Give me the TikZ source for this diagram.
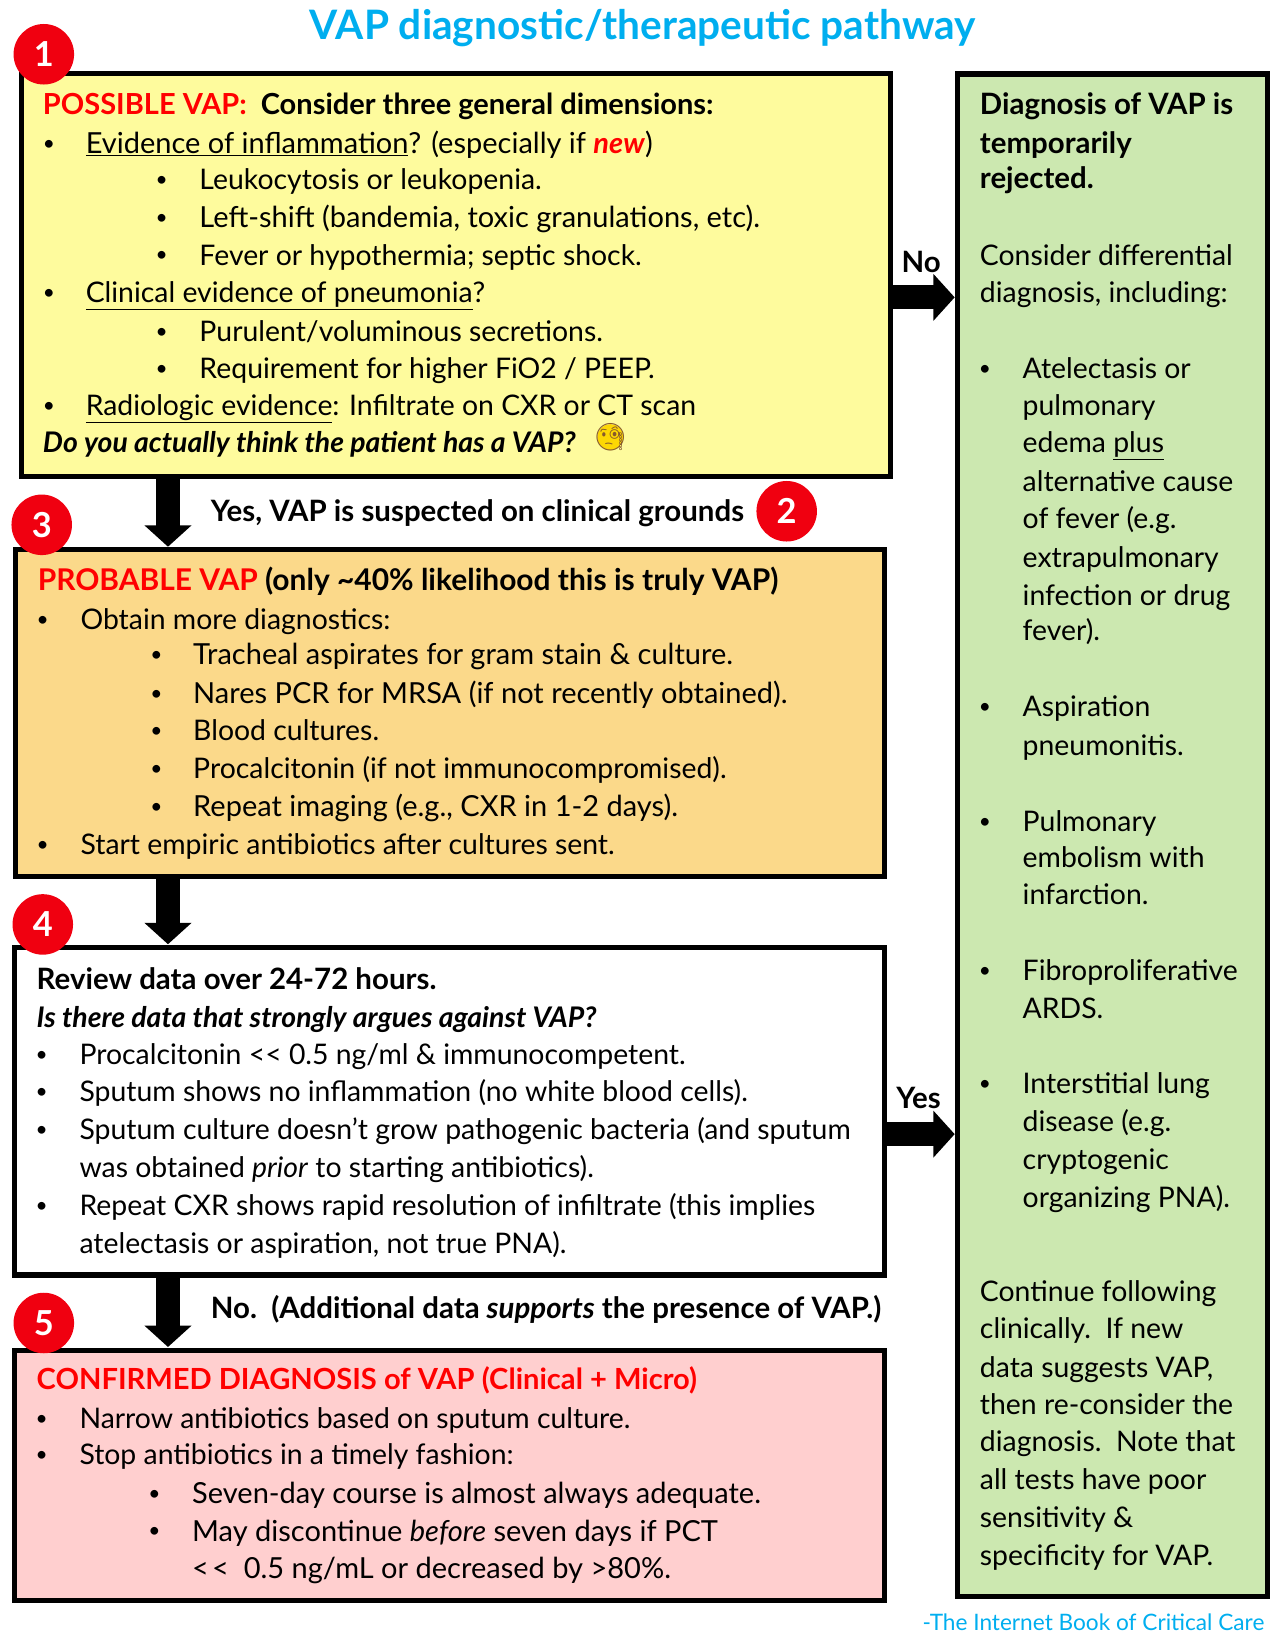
\documentclass[tikz,border=0pt]{standalone}
\usepackage{fontspec}
\setmainfont{Lato}
\newfontfamily\emojifont{Noto Emoji}
\usetikzlibrary{arrows.meta}
\definecolor{titleblue}{HTML}{00AEEF}
\definecolor{possiblefill}{HTML}{FEFB9D}
\definecolor{probablefill}{HTML}{FBD98A}
\definecolor{confirmedfill}{HTML}{FFCFCF}
\definecolor{rejectedfill}{HTML}{CCE8B0}
\definecolor{badgered}{HTML}{F00010}
\tikzset{
  stagebox/.style={draw=black,line width=5pt,anchor=north west,inner sep=0pt,outer sep=0pt},
  flowarrow/.style={line width=23pt,-{Triangle[length=20.5pt,width=44pt]},shorten >=3pt},
  badge/.style={circle,fill=badgered,minimum size=58pt,inner sep=0pt,text=white,font=\fontsize{33}{33}\selectfont\bfseries},
  linetext/.style={anchor=base west,inner sep=0pt,font=\fontsize{27.2}{33}\selectfont},
  widetext/.style={linetext,font=\fontsize{27.8}{33}\selectfont},
  headtext/.style={linetext,font=\fontsize{28.2}{33}\selectfont\bfseries},
  quesstext/.style={linetext,font=\fontsize{27.2}{33}\selectfont\bfseries},
  dot/.style={anchor=base,inner sep=0pt,yshift=3pt,font=\fontsize{20}{24}\selectfont}
}
\begin{document}
\begin{tikzpicture}[x=1pt,y=-1pt,>=stealth]
  \useasboundingbox (0,0) rectangle (1227,1568);
  \node[anchor=base,inner sep=0pt,text=titleblue,font=\fontsize{38.9}{40}\selectfont\bfseries] (title) at (616,38) {VAP diagnostic/therapeutic pathway};

  % stages
  \node[stagebox,fill=possiblefill,minimum width=833pt,minimum height=386pt] (possible) at (20.5,70.5) {};
  \node[stagebox,fill=probablefill,minimum width=833pt,minimum height=313pt] (probable) at (15,527) {};
  \node[stagebox,fill=white,minimum width=834pt,minimum height=314pt] (review) at (14,908) {};
  \node[stagebox,fill=confirmedfill,minimum width=834pt,minimum height=240pt] (confirmed) at (14,1294) {};
  \node[stagebox,fill=rejectedfill,minimum width=297pt,minimum height=1459pt] (rejected) at (918,71) {};

  % block arrows
  \coordinate (spine) at (161,0);
  \coordinate (nolevel) at (0,285);
  \coordinate (yeslevel) at (0,1087);
  \draw[flowarrow] (possible.south -| spine) -- (probable.north -| spine);
  \draw[flowarrow] (probable.south -| spine) -- (review.north -| spine);
  \draw[flowarrow] (review.south -| spine) -- (confirmed.north -| spine);
  \draw[flowarrow] (possible.east |- nolevel) -- (rejected.west |- nolevel);
  \draw[flowarrow] (review.east |- yeslevel) -- (rejected.west |- yeslevel);

  \node[headtext] (nolabel) at (864,261) {No};
  \node[headtext] (yeslabel) at (859,1062) {Yes};
  \node[headtext] (suspected) at (202,500) {Yes, VAP is suspected on clinical grounds};
  \node[headtext] (supports) at (202,1264) {No.\ \ (Additional data \textit{supports} the presence of VAP.)};

  % badges
  \node[badge] (one) at (42,52) {1};
  \node[badge] (two) at (754,490) {2};
  \node[badge] (three) at (40,503) {3};
  \node[badge] (four) at (41,886) {4};
  \node[badge] (five) at (42,1268) {5};

  % bullets
  \foreach \bx/\by in {47/147,155/182,155/218,155/254,47/290,155/327,155/363,47/398,
    41/603,150/637,150/674,150/710,150/746,150/783,41/819,
    40/1020,40/1056,40/1092,40/1165,
    40/1369,40/1404,148/1441,148/1477,
    944/363,944/687,944/797,944/940,944/1048}
    \node[dot] (bul\by) at (\bx,\by) {\textbullet};

  % box 1
  \node[quesstext,font=\fontsize{27.8}{33}\selectfont\bfseries] (possiblehead) at (41,110) {\textcolor{red}{POSSIBLE VAP:}\ \ Consider three general dimensions:};
  \node[widetext] (inflam) at (82,147) {\underline{Evidence of inflammation}? (especially if \textcolor{red}{\textbf{\textit{new}}})};
  \node[linetext] (leuko) at (191,182) {Leukocytosis or leukopenia.};
  \node[widetext] (left) at (191,218) {Left-shift (bandemia, toxic granulations, etc).};
  \node[linetext] (fever) at (191,254) {Fever or hypothermia; septic shock.};
  \node[linetext] (clinical) at (82,290) {\underline{Clinical evidence of pneumonia}?};
  \node[linetext] (purulent) at (191,327) {Purulent/voluminous secretions.};
  \node[linetext] (fio) at (191,363) {Requirement for higher FiO2 / PEEP.};
  \node[linetext] (radio) at (82,398) {\underline{Radiologic evidence}: Infiltrate on CXR or CT scan};
  \node[quesstext] (think) at (41,434) {\textit{Do you actually think the patient has a VAP?}};
  \node[circle,fill=yellow!75!orange,minimum size=25pt,inner sep=0pt] (face) at (585,419) {};
  \node[inner sep=0pt,text=brown!70!black,font=\fontsize{26}{26}\selectfont\emojifont] (monocle) at (face) {🧐};

  % box 3
  \node[headtext,font=\fontsize{28.7}{33}\selectfont\bfseries] (probablehead) at (36,566) {\textcolor{red}{PROBABLE VAP} (only \textasciitilde 40\% likelihood this is truly VAP)};
  \node[linetext] (obtain) at (77,603) {Obtain more diagnostics:};
  \node[widetext] (tracheal) at (185,637) {Tracheal aspirates for gram stain \& culture.};
  \node[widetext] (nares) at (185,674) {Nares PCR for MRSA (if not recently obtained).};
  \node[linetext] (blood) at (185,710) {Blood cultures.};
  \node[linetext] (pct) at (185,746) {Procalcitonin (if not immunocompromised).};
  \node[widetext] (repeat) at (185,783) {Repeat imaging (e.g., CXR in 1-2 days).};
  \node[linetext] (empiric) at (77,819) {Start empiric antibiotics after cultures sent.};

  % box 4
  \node[headtext] (reviewhead) at (35,948) {Review data over 24-72 hours.};
  \node[quesstext] (argues) at (35,985) {\textit{Is there data that strongly argues against VAP?}};
  \node[linetext] (lowpct) at (76,1020) {Procalcitonin <{}< 0.5 ng/ml \& immunocompetent.};
  \node[linetext] (sputum) at (76,1056) {Sputum shows no inflammation (no white blood cells).};
  \node[linetext] (culture) at (76,1092) {Sputum culture doesn’t grow pathogenic bacteria (and sputum};
  \node[linetext] (prior) at (76,1129) {was obtained \textit{prior} to starting antibiotics).};
  \node[linetext] (rapid) at (76,1165) {Repeat CXR shows rapid resolution of infiltrate (this implies};
  \node[linetext] (atel) at (76,1201) {atelectasis or aspiration, not true PNA).};

  % box 5
  \node[quesstext,font=\fontsize{27.9}{33}\selectfont\bfseries] (confirmedhead) at (35,1332) {\textcolor{red}{CONFIRMED DIAGNOSIS of VAP (Clinical + Micro)}};
  \node[linetext] (narrow) at (76,1369) {Narrow antibiotics based on sputum culture.};
  \node[linetext] (stop) at (76,1404) {Stop antibiotics in a timely fashion:};
  \node[widetext] (seven) at (184,1441) {Seven-day course is almost always adequate.};
  \node[widetext] (may) at (184,1477) {May discontinue \textit{before} seven days if PCT};
  \node[widetext] (decr) at (184,1513) {<\kern3pt<\ \ 0.5 ng/mL or decreased by >80\%.};

  % right column
  \foreach \nm/\ty/\tt in {ra/110/Diagnosis of VAP is,rb/147/temporarily,rc/181/rejected.}
    \node[headtext] (\nm) at (939,\ty) {\tt};
  \foreach \nm/\tx/\ty/\tt in {
    da/939/254/Consider differential,db/939/290/{diagnosis, including:},
    ea/980/363/Atelectasis or,eb/980/398/pulmonary,ec/980/434/edema \underline{plus},
    ed/980/471/alternative cause,ee/980/507/of fever (e.g.,ef/980/544/extrapulmonary,
    eg/980/580/infection or drug,eh/980/614/fever).,
    fa/980/687/Aspiration,fb/980/724/pneumonitis.,
    ga/980/797/Pulmonary,gb/980/831/embolism with,gc/980/867/infarction.,
    ha/980/940/Fibroproliferative,hb/980/976/ARDS.,
    ia/980/1048/Interstitial lung,ib/980/1084/disease (e.g.,ic/980/1121/cryptogenic,id/980/1157/organizing PNA).,
    ja/939/1247/Continue following,jb/939/1283/clinically.\ \ If new,jc/939/1320/{data suggests VAP,},
    jd/939/1356/then re-consider the,je/939/1391/diagnosis.\ \ Note that,jf/939/1428/all tests have poor,
    jg/939/1464/sensitivity \&,jh/939/1500/specificity for VAP.}
    \node[linetext] (\nm) at (\tx,\ty) {\tt};

  \node[anchor=base east,inner sep=0pt,text=titleblue,font=\fontsize{21.7}{26}\selectfont] (credit) at (1212,1563) {-The Internet Book of Critical Care};
\end{tikzpicture}
\end{document}
